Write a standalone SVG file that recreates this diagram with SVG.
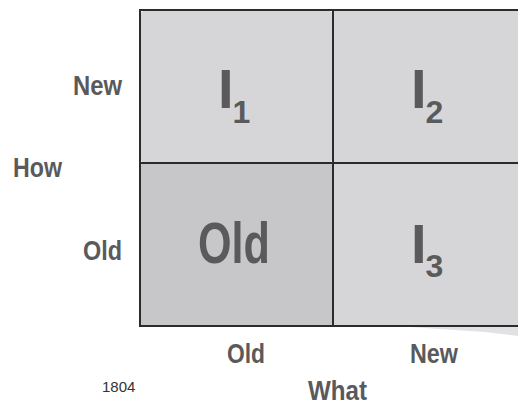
<svg xmlns="http://www.w3.org/2000/svg" width="518" height="405" viewBox="0 0 518 405">
<style>
.cell{fill:#d6d6d8}
.dark{fill:#c7c7c9}
.lbl{font-family:"Liberation Sans",Arial,sans-serif;font-weight:bold;fill:#5a5a5c}
.big{font-size:56px}
.sub{font-size:32px}
.ax{font-size:27px}
.grid{stroke:#2b2b2b;stroke-width:2;fill:none}
</style>
<rect width="518" height="405" fill="#ffffff"/>
<g id="cell-I1"><rect class="cell" x="140" y="10" width="193" height="153" rx="6"/>
<text class="lbl big" x="218" y="108">I<tspan class="sub" dx="-1" dy="15">1</tspan></text></g>
<g id="cell-I2"><rect class="cell" x="333" y="10" width="185" height="153"/>
<text class="lbl big" x="411" y="108">I<tspan class="sub" dx="-1" dy="15">2</tspan></text></g>
<g id="cell-Old"><rect class="dark" x="140" y="163" width="193" height="163"/>
<text class="lbl" x="234" y="263" font-size="57" text-anchor="middle" textLength="72" lengthAdjust="spacingAndGlyphs">Old</text></g>
<g id="cell-I3"><rect class="cell" x="333" y="163" width="185" height="163"/>
<polygon fill="#e2e2e4" points="410,327 518,327 518,336 485,332"/>
<text class="lbl big" x="411" y="263">I<tspan class="sub" dx="-1" dy="14">3</tspan></text></g>
<g id="connectors">
<path class="grid" d="M518,10 H140 V326 H518 M333,10 V326 M140,163 H518"/>
</g>
<g id="axis-how">
<text class="lbl ax" x="122" y="95" text-anchor="end" textLength="49" lengthAdjust="spacingAndGlyphs">New</text>
<text class="lbl ax" x="13" y="177" textLength="49" lengthAdjust="spacingAndGlyphs">How</text>
<text class="lbl ax" x="122" y="260" text-anchor="end" textLength="39" lengthAdjust="spacingAndGlyphs">Old</text>
</g>
<g id="axis-what">
<text class="lbl ax" x="227" y="363" textLength="38" lengthAdjust="spacingAndGlyphs">Old</text>
<text class="lbl ax" x="410" y="363" textLength="48" lengthAdjust="spacingAndGlyphs">New</text>
<text class="lbl ax" x="308" y="400" textLength="59" lengthAdjust="spacingAndGlyphs">What</text>
</g>
<g id="figure-number">
<text x="102" y="392" font-family="Liberation Sans, Arial, sans-serif" font-size="15" fill="#333333">1804</text>
</g>
</svg>
